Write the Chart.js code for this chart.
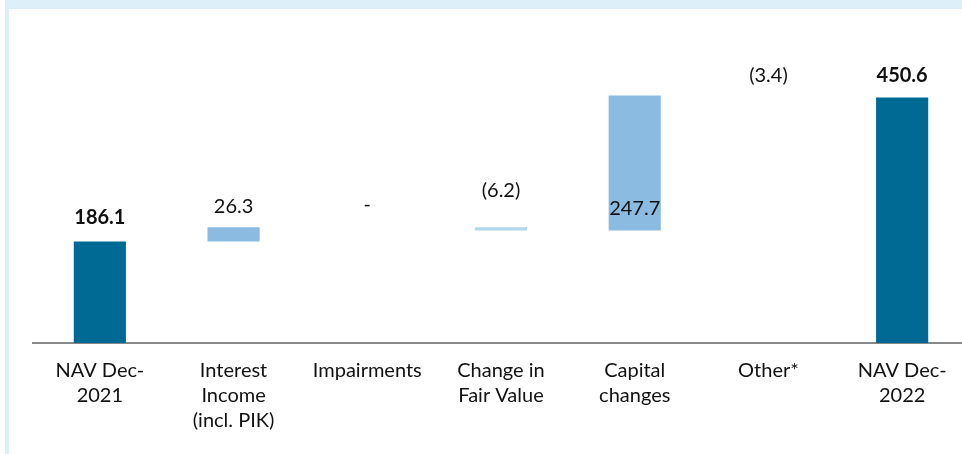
<!DOCTYPE html>
<html>
<head>
<meta charset="utf-8">
<script src="https://cdn.jsdelivr.net/npm/chart.js@4/dist/chart.umd.min.js"></script>
<style>
  html, body { margin: 0; padding: 0; background: #fff; }
  #wrap { position: relative; width: 962px; height: 454px; overflow: hidden; }
  #frame {
    position: absolute; left: 5px; top: 0; right: 0; bottom: 0;
    border-left: 4px solid #ddf0f9; border-top: 9px solid #ddf0f9;
  }
  #box { position: absolute; left: 0; top: 0; width: 972px; height: 454px; }
</style>
</head>
<body>
<div id="wrap">
  <div id="frame"></div>
  <div id="box"><canvas id="myChart"></canvas></div>
</div>
<script>
const categories = [
  ['NAV Dec-', '2021'],
  ['Interest', 'Income', '(incl. PIK)'],
  'Impairments',
  ['Change in', 'Fair Value'],
  ['Capital', 'changes'],
  'Other*',
  ['NAV Dec-', '2022']
]
const changes = [186.1, 26.3, 0, -6.2, 247.7, -3.4, 450.6]
const isTotal = [true, false, false, false, false, false, true]
const valueLabels = ['186.1', '26.3', '-', '(6.2)', '247.7', '(3.4)', '450.6']

// waterfall ranges
let run = 0
const ranges = changes.map(function (v, i) {
  if (isTotal[i]) {
    run = v
    return [0, v]
  }
  const r = [run, run + v]
  run = run + v
  return r
})

const barColors = ['#006a94', '#8bbbe0', '#8bbbe0', '#b3d8ec', '#8bbbe0', 'rgba(0,0,0,0)', '#006a94']
// label placement: anchor on bar top or bar base, plus pixel offset
const labelAnchor = ['top', 'top', 'top', 'top', 'base', 'top', 'top']
const labelOffset = [-24, -21, -23, -37, -22, -20, -22]

const valueLabelPlugin = {
  id: 'valueLabels',
  afterDatasetsDraw(chart) {
    const ctx = chart.ctx
    const meta = chart.getDatasetMeta(0)
    ctx.save()
    ctx.textAlign = 'center'
    ctx.textBaseline = 'middle'
    ctx.fillStyle = '#111111'
    meta.data.forEach(function (bar, i) {
      const top = Math.min(bar.y, bar.base)
      const bottom = Math.max(bar.y, bar.base)
      const y = (labelAnchor[i] === 'base' ? bottom : top) + labelOffset[i]
      ctx.font = (isTotal[i] ? 'bold ' : '') + '20px Lato'
      ctx.fillText(valueLabels[i], bar.x, y)
    })
    ctx.restore()
  }
}

const config = {
  type: 'bar',
  data: {
    labels: categories,
    datasets: [
      {
        data: ranges,
        backgroundColor: barColors,
        borderWidth: 0,
        categoryPercentage: 1,
        barPercentage: 0.39
      }
    ]
  },
  options: {
    responsive: false,
    animation: false,
    layout: { padding: { left: 33, right: 3, top: 16, bottom: 0 } },
    plugins: { legend: { display: false }, tooltip: { enabled: false } },
    scales: {
      x: {
        grid: { display: false, drawTicks: false },
        border: { display: true, color: '#888888', width: 2 },
        ticks: {
          color: '#111111',
          padding: 15,
          maxRotation: 0,
          autoSkip: false,
          font: { family: 'Lato', size: 20, lineHeight: 1.25 }
        },
        afterFit: function (scale) {
          scale.height = 111
        }
      },
      y: {
        display: false,
        min: 0,
        max: 600
      }
    }
  },
  plugins: [valueLabelPlugin]
}

const cv = document.getElementById('myChart')
cv.width = 972
cv.height = 454
const myChart = new Chart(cv, config)
</script>
</body>
</html>
